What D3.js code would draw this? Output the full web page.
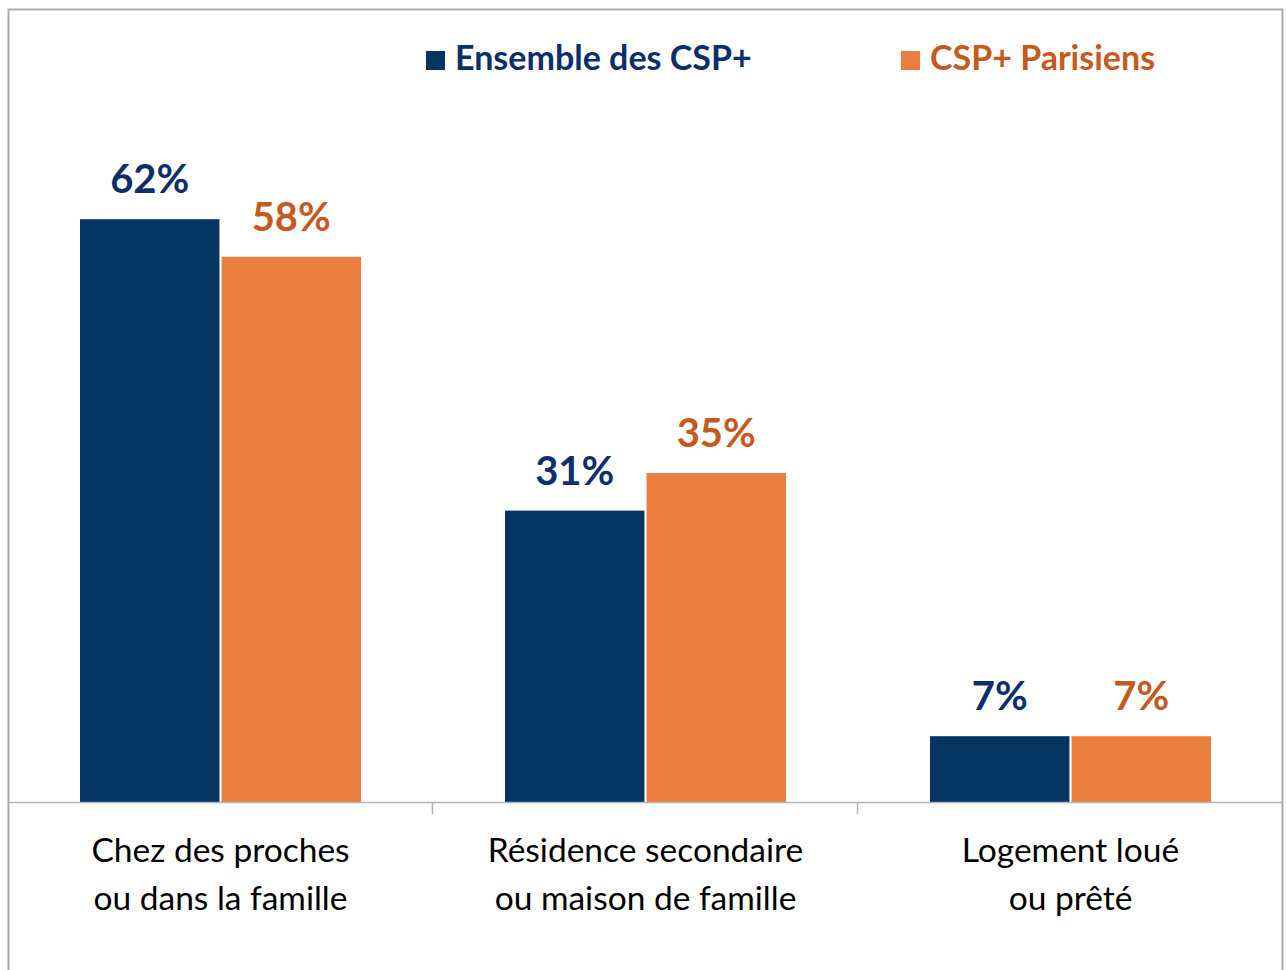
<!DOCTYPE html>
<html>
<head>
<meta charset="utf-8">
<script src="https://cdn.jsdelivr.net/npm/d3@7"></script>
<style>
  html, body { margin: 0; padding: 0; background: #fff; }
  svg { display: block; }
  text { font-family: Lato, "Open Sans", sans-serif; }
</style>
</head>
<body>
<svg width="1287" height="970"></svg>
<script>
const categories = [
  ['Chez des proches', 'ou dans la famille'],
  ['Résidence secondaire', 'ou maison de famille'],
  ['Logement loué', 'ou prêté']
];
const seriesNames = ['Ensemble des CSP+', 'CSP+ Parisiens'];
const ensembleValues = [62, 31, 7];
const parisiensValues = [58, 35, 7];

const barColors = ['#043462', '#eb7e3e'];
const labelColors = ['#0b2f6b', '#c55a1e'];

const svg = d3.select('svg');
const width = +svg.attr('width');
const height = +svg.attr('height');

// outer frame
svg.append('rect')
  .attr('x', 8.5).attr('y', 9.5)
  .attr('width', 1274).attr('height', height)
  .attr('fill', 'none')
  .attr('stroke', '#acacac')
  .attr('stroke-width', 2);

const baseY = 802;
const x0 = d3.scaleBand()
  .domain(d3.range(categories.length))
  .range([8, 1283]);

const x1 = d3.scaleBand()
  .domain(d3.range(seriesNames.length))
  .range([72, x0.bandwidth() - 72])
  .paddingInner(0.015);

const y = d3.scaleLinear()
  .domain([0, 70])
  .range([baseY, baseY - 658]);

const rows = categories.map((c, i) => ({
  i,
  values: [ensembleValues[i], parisiensValues[i]]
}));

const groups = svg.append('g')
  .selectAll('g')
  .data(rows)
  .enter()
  .append('g')
  .attr('transform', d => `translate(${x0(d.i)},0)`);

groups.selectAll('rect')
  .data(d => d.values.map((v, s) => ({ v, s })))
  .enter()
  .append('rect')
  .attr('x', d => x1(d.s))
  .attr('width', x1.bandwidth())
  .attr('y', d => y(d.v))
  .attr('height', d => y(0) - y(d.v))
  .attr('fill', d => barColors[d.s]);

groups.selectAll('text.val')
  .data(d => d.values.map((v, s) => ({ v, s })))
  .enter()
  .append('text')
  .attr('class', 'val')
  .attr('x', d => x1(d.s) + x1.bandwidth() / 2)
  .attr('y', d => y(d.v) - 26)
  .attr('text-anchor', 'middle')
  .attr('font-size', 40)
  .attr('font-weight', 'bold')
  .attr('fill', d => labelColors[d.s])
  .text(d => d.v + '%');

// axis line and ticks at band boundaries
const axis = svg.append('g');
axis.append('line')
  .attr('x1', 9).attr('x2', 1282)
  .attr('y1', baseY + 0.5).attr('y2', baseY + 0.5)
  .attr('stroke', '#b4b4b4')
  .attr('stroke-width', 1.5);

axis.selectAll('line.tick')
  .data(d3.range(1, categories.length))
  .enter()
  .append('line')
  .attr('class', 'tick')
  .attr('x1', i => x0(i) - 0.5).attr('x2', i => x0(i) - 0.5)
  .attr('y1', baseY).attr('y2', baseY + 12)
  .attr('stroke', '#b4b4b4')
  .attr('stroke-width', 1.5);

// category labels
const catLabels = svg.append('g')
  .selectAll('text')
  .data(categories)
  .enter()
  .append('text')
  .attr('text-anchor', 'middle')
  .attr('font-size', 33.5)
  .attr('fill', '#000');

catLabels.selectAll('tspan')
  .data((d, i) => d.map(line => ({ line, i })))
  .enter()
  .append('tspan')
  .attr('x', d => x0(d.i) + x0.bandwidth() / 2)
  .attr('y', (d, j) => 862 + j * 48)
  .text(d => d.line);

// legend
const legendX = [426, 901];
const legend = svg.append('g')
  .selectAll('g')
  .data(seriesNames)
  .enter()
  .append('g')
  .attr('transform', (d, i) => `translate(${legendX[i]},51)`);

legend.append('rect')
  .attr('width', 19).attr('height', 19)
  .attr('fill', (d, i) => barColors[i]);

legend.append('text')
  .attr('x', 29)
  .attr('y', 19)
  .attr('font-size', 34)
  .attr('font-weight', 'bold')
  .attr('fill', (d, i) => labelColors[i])
  .text(d => d);
</script>
</body>
</html>
